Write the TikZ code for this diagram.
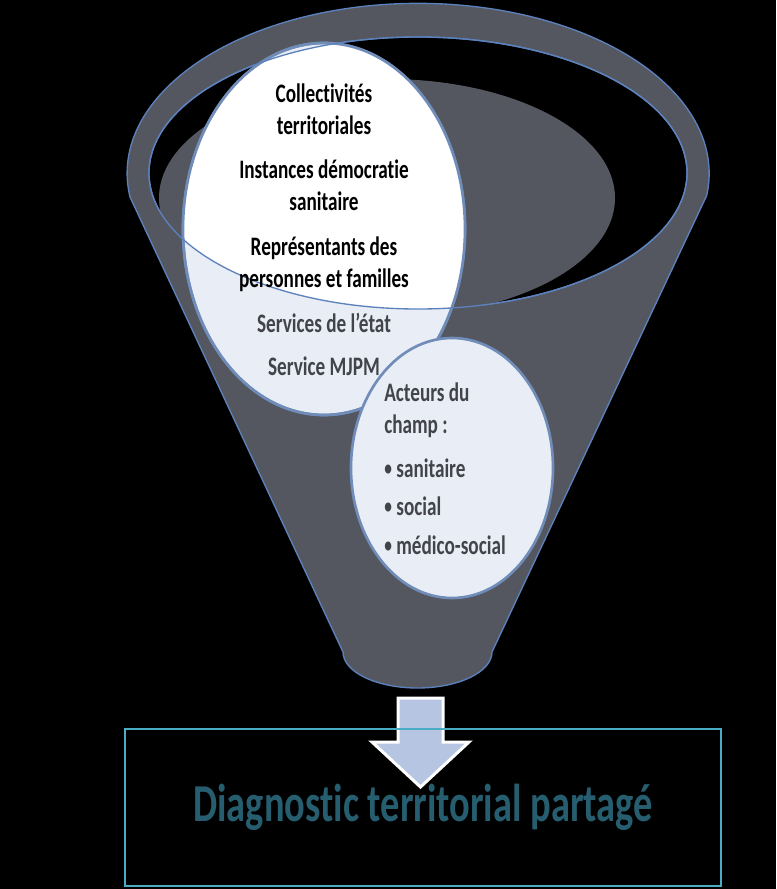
\documentclass[tikz,border=0pt]{standalone}
\usepackage{fontspec}
\setmainfont{Carlito}[FakeStretch = 0.72, Ligatures = NoCommon]
\usetikzlibrary{positioning, calc}
\definecolor{FunnelGrey}{RGB}{84, 87, 95}
\definecolor{FunnelBlue}{RGB}{92, 130, 190}
\definecolor{FunnelLavender}{RGB}{233, 237, 246}
\definecolor{FunnelEdge}{RGB}{112, 140, 184}
\definecolor{FunnelText}{RGB}{66, 68, 74}
\definecolor{ArrowBlue}{RGB}{182, 197, 225}
\definecolor{DiagTeal}{RGB}{75, 172, 198}
\definecolor{DiagText}{RGB}{38, 94, 112}
\newcommand{\dotitem}{\raisebox{1.6pt}{\fontsize{16}{16}\selectfont •}\,}

\begin{document}
\begin{tikzpicture}[
        x = 0.75pt, y = -0.75pt,
        shell/.style = {fill = FunnelGrey, draw = FunnelBlue, line width = 1pt, line join = round},
        rim/.style = {draw = FunnelBlue, line width = 1pt},
        blob/.style = {fill = FunnelLavender, draw = FunnelEdge, line width = 2pt},
        txt/.style = {font = \fontsize{20}{24}\selectfont\bfseries, inner sep = 0pt},
        arr/.style = {fill = ArrowBlue, draw = white, line width = 2.25pt}
    ]
        \useasboundingbox[fill = black] (0, 0) rectangle (776, 889);

        \path[shell] (706, 197) -- (492, 652)
            arc[start angle = 0, end angle = 180, x radius = 74.5, y radius = 36]
            -- (130, 197)
            arc[start angle = 172, end angle = 368, x radius = 291, y radius = 170]
            -- cycle;

        \draw[rim, fill = black] (418, 173) ellipse [x radius = 269, y radius = 136];
        \fill[FunnelGrey] (387, 198) ellipse [x radius = 228, y radius = 119];

        \path[blob] (324, 229) ellipse [x radius = 141, y radius = 186];
        \begin{scope}
            \clip (418, 173) ellipse [x radius = 269, y radius = 136];
            \fill[white] (324, 229) ellipse [x radius = 141, y radius = 186];
        \end{scope}
        \draw[blob, fill = none] (324, 229) ellipse [x radius = 141, y radius = 186];
        \draw[rim] (418, 173) ellipse [x radius = 269, y radius = 136];

        \path[blob] (452, 468) ellipse [x radius = 101, y radius = 130];

        \path[arr] (398, 698) -- (443, 698) -- (443, 742) -- (469, 742) -- (420.5, 787) -- (372, 742) -- (398, 742) -- cycle;

        \node[draw = DiagTeal, line width = 1.1pt, minimum width = 447pt, minimum height = 117.75pt, inner sep = 0pt, text = DiagText, font = \fontsize{40}{48}\selectfont\bfseries] (diag) at (423, 807.5) {Diagnostic territorial partagé};

        \node[txt, align = center] (pub) at (324, 229.5) {
            Collectivités
            \\
            territoriales
            \\[9.5pt]
            Instances démocratie
            \\
            sanitaire
            \\[9.5pt]
            Représentants des
            \\
            personnes et familles
            \\[9.5pt]
            \textcolor{FunnelText}{Services de l’état}
            \\[8.5pt]
            \textcolor{FunnelText}{Service MJPM}
        };

        \node[txt, align = left, text = FunnelText, anchor = north west] (act) at (384, 383) {
            Acteurs du
            \\
            champ :
            \\[9pt]
            \dotitem sanitaire
            \\[4pt]
            \dotitem social
            \\[5.5pt]
            \dotitem médico-social
        };
    \end{tikzpicture}
\end{document}
